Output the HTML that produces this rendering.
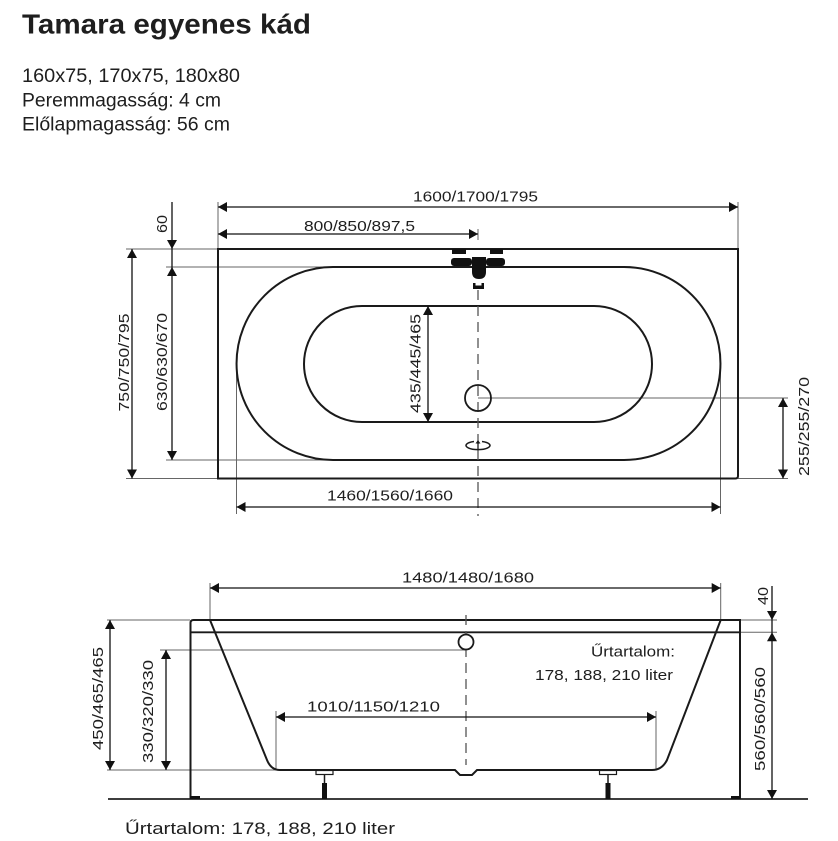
<!DOCTYPE html>
<html><head><meta charset="utf-8"><style>
html,body{margin:0;padding:0;background:#fff;}
svg{display:block;}
text{font-family:"Liberation Sans",sans-serif;fill:#1e1e1e;}
</style></head><body>
<svg width="838" height="841" viewBox="0 0 838 841" xmlns="http://www.w3.org/2000/svg">
<defs>
<marker id="a" viewBox="0 0 9 10" refX="9" refY="5" markerWidth="9" markerHeight="10" markerUnits="userSpaceOnUse" orient="auto-start-reverse"><path d="M0,0 L9,5 L0,10 z" fill="#111"/></marker>
</defs>

<!-- Header text -->
<text x="22" y="33.5" font-size="28" font-weight="bold" textLength="289" lengthAdjust="spacingAndGlyphs">Tamara egyenes kád</text>
<text x="22" y="82" font-size="19" textLength="218" lengthAdjust="spacingAndGlyphs">160x75, 170x75, 180x80</text>
<text x="22" y="106.5" font-size="19" textLength="199" lengthAdjust="spacingAndGlyphs">Peremmagasság: 4 cm</text>
<text x="22" y="130.5" font-size="19" textLength="208" lengthAdjust="spacingAndGlyphs">Előlapmagasság: 56 cm</text>

<!-- ============ TOP VIEW ============ -->
<g stroke="#666" stroke-width="1" fill="none">
  <line x1="126" y1="249" x2="218" y2="249"/>
  <line x1="126" y1="478.5" x2="218" y2="478.5"/>
  <line x1="166" y1="267" x2="333" y2="267"/>
  <line x1="166" y1="460" x2="333" y2="460"/>
  <line x1="218" y1="202" x2="218" y2="249"/>
  <line x1="738" y1="202" x2="738" y2="249"/>
  <line x1="478" y1="229" x2="478" y2="240"/>
  <line x1="478" y1="398" x2="788" y2="398"/>
  <line x1="738" y1="478.5" x2="788" y2="478.5"/>
  <line x1="236.5" y1="363" x2="236.5" y2="514"/>
  <line x1="720.5" y1="363" x2="720.5" y2="514"/>
</g>
<path d="M218,249 H738 V476 Q738,478.5 735.5,478.5 H218 Z" fill="none" stroke="#1a1a1a" stroke-width="2"/>
<path d="M333,267 H624 A96.5,96.5 0 0 1 624,460 H333 A96.5,96.5 0 0 1 333,267 Z" fill="none" stroke="#1a1a1a" stroke-width="2"/>
<path d="M362,306 H594 A58,58 0 0 1 594,422 H362 A58,58 0 0 1 362,306 Z" fill="none" stroke="#1a1a1a" stroke-width="2"/>
<line x1="478" y1="290" x2="478" y2="516" stroke="#555" stroke-width="1.3" stroke-dasharray="10,6"/>
<circle cx="478" cy="398" r="13" fill="none" stroke="#1a1a1a" stroke-width="1.8"/>
<path d="M474,441.5 A12,4.2 0 1 0 482,441.5" fill="none" stroke="#1a1a1a" stroke-width="1.5"/>
<line x1="478" y1="449" x2="478" y2="443" stroke="#1a1a1a" stroke-width="1.3"/>
<path d="M475.5,443.5 L478,440 L480.5,443.5 Z" fill="#1a1a1a"/>
<g fill="#111">
  <rect x="452" y="249" width="14" height="5"/>
  <rect x="490" y="249" width="13" height="5"/>
  <rect x="451" y="258" width="21" height="8" rx="3"/>
  <rect x="486" y="258" width="19" height="8" rx="3"/>
  <path d="M472,257 H486 V272 Q486,279 479,279 Q472,279 472,272 Z"/>
  <path d="M473,283 H475.5 V285.5 H481.5 V283 H484 V289 H473 Z"/>
</g>
<g stroke="#111" stroke-width="1.3" fill="none">
  <line x1="218" y1="207" x2="738" y2="207" marker-start="url(#a)" marker-end="url(#a)"/>
  <line x1="218" y1="234" x2="478" y2="234" marker-start="url(#a)" marker-end="url(#a)"/>
  <line x1="172" y1="202" x2="172" y2="249" marker-end="url(#a)"/>
  <line x1="172" y1="249" x2="172" y2="267"/>
  <line x1="172" y1="267" x2="172" y2="460" marker-start="url(#a)" marker-end="url(#a)"/>
  <line x1="132" y1="249" x2="132" y2="478.5" marker-start="url(#a)" marker-end="url(#a)"/>
  <line x1="428" y1="306" x2="428" y2="422" marker-start="url(#a)" marker-end="url(#a)"/>
  <line x1="783" y1="398" x2="783" y2="478.5" marker-start="url(#a)" marker-end="url(#a)"/>
  <line x1="236.5" y1="507" x2="720.5" y2="507" marker-start="url(#a)" marker-end="url(#a)"/>
</g>
<g font-size="14.5">
  <text x="413" y="201.5" textLength="125" lengthAdjust="spacingAndGlyphs">1600/1700/1795</text>
  <text x="304" y="231" textLength="111" lengthAdjust="spacingAndGlyphs">800/850/897,5</text>
  <text x="327" y="500.5" textLength="126" lengthAdjust="spacingAndGlyphs">1460/1560/1660</text>
  <text transform="translate(167,224) rotate(-90)" text-anchor="middle" textLength="18" lengthAdjust="spacingAndGlyphs">60</text>
  <text transform="translate(129,362.5) rotate(-90)" text-anchor="middle" textLength="98" lengthAdjust="spacingAndGlyphs">750/750/795</text>
  <text transform="translate(167,362) rotate(-90)" text-anchor="middle" textLength="98" lengthAdjust="spacingAndGlyphs">630/630/670</text>
  <text transform="translate(420.5,363.5) rotate(-90)" text-anchor="middle" textLength="99" lengthAdjust="spacingAndGlyphs">435/445/465</text>
  <text transform="translate(809,426.5) rotate(-90)" text-anchor="middle" textLength="99" lengthAdjust="spacingAndGlyphs">255/255/270</text>
</g>

<!-- ============ SIDE VIEW ============ -->
<g stroke="#666" stroke-width="1" fill="none">
  <line x1="107" y1="620" x2="190" y2="620"/>
  <line x1="107" y1="770" x2="280" y2="770"/>
  <line x1="160" y1="650" x2="466" y2="650"/>
  <line x1="210" y1="583" x2="210" y2="620"/>
  <line x1="720.7" y1="583" x2="720.7" y2="620"/>
  <line x1="740" y1="620" x2="777" y2="620"/>
  <line x1="740" y1="632.3" x2="777" y2="632.3"/>
  <line x1="276" y1="711" x2="276" y2="770"/>
  <line x1="656" y1="711" x2="656" y2="770"/>
</g>
<line x1="108" y1="799" x2="808" y2="799" stroke="#222" stroke-width="1.8"/>
<path d="M190.5,799 V623 Q190.5,620 193.5,620 H740 V799" fill="none" stroke="#1a1a1a" stroke-width="2"/>
<line x1="190.5" y1="632.3" x2="740" y2="632.3" stroke="#1a1a1a" stroke-width="1.8"/>
<rect x="190" y="796" width="10" height="3" fill="#111"/>
<rect x="731" y="796" width="9" height="3" fill="#111"/>
<path d="M210,620 L267,760 Q271,770 280,770 H455 L460,775 H472 L477,770 H652 Q662,770 667,760 L720.7,620" fill="none" stroke="#1a1a1a" stroke-width="2"/>
<g>
  <rect x="316" y="770.5" width="17" height="4" fill="#fff" stroke="#1a1a1a" stroke-width="1.2"/>
  <line x1="324.5" y1="774.5" x2="324.5" y2="784" stroke="#1a1a1a" stroke-width="1.5"/>
  <rect x="322" y="783" width="5" height="16" fill="#111"/>
  <rect x="599.5" y="770.5" width="17" height="4" fill="#fff" stroke="#1a1a1a" stroke-width="1.2"/>
  <line x1="608" y1="774.5" x2="608" y2="784" stroke="#1a1a1a" stroke-width="1.5"/>
  <rect x="605.5" y="783" width="5" height="16" fill="#111"/>
</g>
<line x1="466" y1="615" x2="466" y2="765" stroke="#555" stroke-width="1.3" stroke-dasharray="10,6"/>
<circle cx="466" cy="642" r="7.5" fill="#fff" stroke="#1a1a1a" stroke-width="1.8"/>
<g stroke="#111" stroke-width="1.3" fill="none">
  <line x1="210" y1="588" x2="720.7" y2="588" marker-start="url(#a)" marker-end="url(#a)"/>
  <line x1="772" y1="586" x2="772" y2="620" marker-end="url(#a)"/>
  <line x1="772" y1="620" x2="772" y2="632.3"/>
  <line x1="772" y1="632.3" x2="772" y2="799" marker-start="url(#a)" marker-end="url(#a)"/>
  <line x1="110" y1="620" x2="110" y2="770" marker-start="url(#a)" marker-end="url(#a)"/>
  <line x1="166" y1="650" x2="166" y2="770" marker-start="url(#a)" marker-end="url(#a)"/>
  <line x1="276" y1="717" x2="656" y2="717" marker-start="url(#a)" marker-end="url(#a)"/>
</g>
<g font-size="14.5">
  <text x="402" y="582.5" textLength="132" lengthAdjust="spacingAndGlyphs">1480/1480/1680</text>
  <text x="307" y="711.5" textLength="133" lengthAdjust="spacingAndGlyphs">1010/1150/1210</text>
  <text transform="translate(768,596) rotate(-90)" text-anchor="middle" textLength="18" lengthAdjust="spacingAndGlyphs">40</text>
  <text transform="translate(765,719) rotate(-90)" text-anchor="middle" textLength="104" lengthAdjust="spacingAndGlyphs">560/560/560</text>
  <text transform="translate(103,698.5) rotate(-90)" text-anchor="middle" textLength="103" lengthAdjust="spacingAndGlyphs">450/465/465</text>
  <text transform="translate(153,711.5) rotate(-90)" text-anchor="middle" textLength="103" lengthAdjust="spacingAndGlyphs">330/320/330</text>
</g>
<text x="591" y="656.5" font-size="15" textLength="84" lengthAdjust="spacingAndGlyphs">Űrtartalom:</text>
<text x="535" y="680" font-size="15" textLength="138" lengthAdjust="spacingAndGlyphs">178, 188, 210 liter</text>
<text x="125" y="834" font-size="17" textLength="270" lengthAdjust="spacingAndGlyphs">Űrtartalom: 178, 188, 210 liter</text>
</svg>
</body></html>
